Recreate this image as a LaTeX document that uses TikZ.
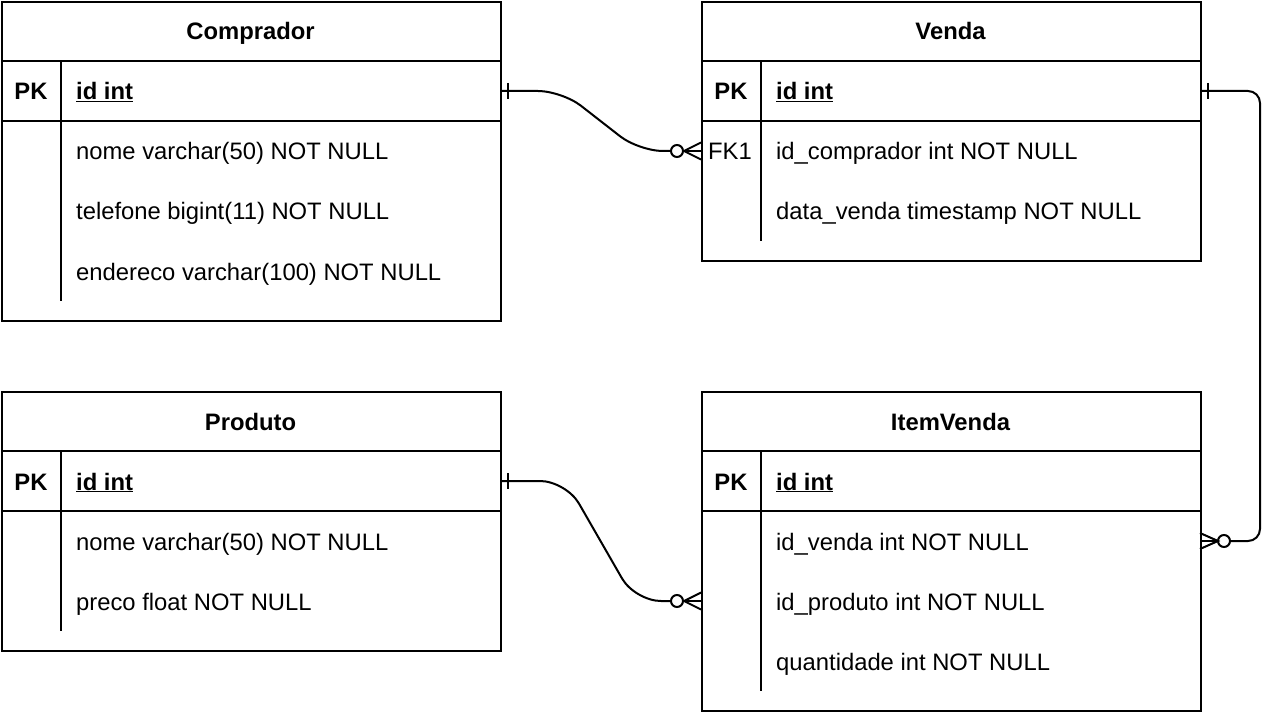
\documentclass[tikz,border=0pt]{standalone}
\usepackage{fontspec}
\setmainfont{Liberation Sans}
\usetikzlibrary{calc}
\begin{document}
\begin{tikzpicture}[x=1pt,y=-1pt,
  every node/.style={font=\fontsize{23.8}{28}\selectfont},
  tbox/.style={draw, line width=2pt, anchor=north west, inner sep=0pt, minimum width=499pt},
  sep/.style={line width=2pt},
  txt/.style={inner sep=0pt, text height=17pt, text depth=0pt},
  title/.style={txt, font=\fontsize{23.8}{28}\selectfont\bfseries},
  keyt/.style={txt, font=\fontsize{23.8}{28}\selectfont\bfseries},
  fk/.style={txt},
  fld/.style={txt, anchor=west},
  conn/.style={line width=2pt},
  endmark/.style={line width=2pt}
]
\useasboundingbox (0,0) rectangle (1280,714);

% ---------- Comprador ----------
\node[tbox, minimum height=319pt] (comp) at (1,1) {};
\node[title] (compT) at (250.5,31.5) {Comprador};
\draw[sep] (1,61) -- (500,61);
\draw[sep] (1,121) -- (500,121);
\draw[sep] (61,61) -- (61,301);
\node[keyt] (compPK) at (31,91.5) {PK};
\node[fld, font=\fontsize{23.8}{28}\selectfont\bfseries] (compId) at (76,91.5) {\underline{id int}};
\node[fld] (compF1) at (76,151.5) {nome varchar(50) NOT NULL};
\node[fld] (compF2) at (76,211.5) {telefone bigint(11) NOT NULL};
\node[fld] (compF3) at (76,271.5) {endereco varchar(100) NOT NULL};

% ---------- Venda ----------
\node[tbox, minimum height=259pt] (venda) at (701,1) {};
\node[title] (vendaT) at (950.5,31.5) {Venda};
\draw[sep] (701,61) -- (1200,61);
\draw[sep] (701,121) -- (1200,121);
\draw[sep] (761,61) -- (761,241);
\node[keyt] (vendaPK) at (731,91.5) {PK};
\node[fld, font=\fontsize{23.8}{28}\selectfont\bfseries] (vendaId) at (776,91.5) {\underline{id int}};
\node[fk] (vendaFK) at (730,151.5) {FK1};
\node[fld] (vendaF1) at (776,151.5) {id\_comprador int NOT NULL};
\node[fld] (vendaF2) at (776,211.5) {data\_venda timestamp NOT NULL};

% ---------- Produto ----------
\node[tbox, minimum height=259pt] (prod) at (1,391) {};
\node[title] (prodT) at (250.5,421.5) {Produto};
\draw[sep] (1,451) -- (500,451);
\draw[sep] (1,511) -- (500,511);
\draw[sep] (61,451) -- (61,631);
\node[keyt] (prodPK) at (31,481.5) {PK};
\node[fld, font=\fontsize{23.8}{28}\selectfont\bfseries] (prodId) at (76,481.5) {\underline{id int}};
\node[fld] (prodF1) at (76,541.5) {nome varchar(50) NOT NULL};
\node[fld] (prodF2) at (76,601.5) {preco float NOT NULL};

% ---------- ItemVenda ----------
\node[tbox, minimum height=319pt] (item) at (701,391) {};
\node[title] (itemT) at (950.5,421.5) {ItemVenda};
\draw[sep] (701,451) -- (1200,451);
\draw[sep] (701,511) -- (1200,511);
\draw[sep] (761,451) -- (761,691);
\node[keyt] (itemPK) at (731,481.5) {PK};
\node[fld, font=\fontsize{23.8}{28}\selectfont\bfseries] (itemId) at (776,481.5) {\underline{id int}};
\node[fld] (itemF1) at (776,541.5) {id\_venda int NOT NULL};
\node[fld] (itemF2) at (776,601.5) {id\_produto int NOT NULL};
\node[fld] (itemF3) at (776,661.5) {quantidade int NOT NULL};

% ---------- Connectors ----------
% Comprador.id -> Venda.id_comprador
\coordinate (a1) at (500,91);
\coordinate (b1) at (701,151);
\draw[conn, rounded corners=24pt] (a1) -- ($(a1)+(62,0)$) -- ($(b1)+(-62,0)$) -- ($(b1)+(-30,0)$);
\draw[endmark] ($(a1)+(8,-8)$) -- ($(a1)+(8,8)$);
\draw[endmark] ($(b1)+(-24,0)$) circle (6);
\draw[endmark] ($(b1)+(0,-8.5)$) -- ($(b1)+(-17,0)$) -- ($(b1)+(0,8.5)$);
\draw[endmark] ($(b1)+(-17,0)$) -- (b1);

% Venda.id -> ItemVenda.id_venda
\coordinate (a2) at (1200,91);
\coordinate (b2) at (1200,541);
\draw[conn, rounded corners=12pt] (a2) -- ($(a2)+(60,0)$) -- ($(b2)+(60,0)$) -- ($(b2)+(30,0)$);
\draw[endmark] ($(a2)+(8,-8)$) -- ($(a2)+(8,8)$);
\draw[endmark] ($(b2)+(24,0)$) circle (6);
\draw[endmark] ($(b2)+(0,-8)$) -- ($(b2)+(18,0)$) -- ($(b2)+(0,8)$);
\draw[endmark] ($(b2)+(18,0)$) -- (b2);

% Produto.id -> ItemVenda.id_produto
\coordinate (a3) at (500,481);
\coordinate (b3) at (701,601);
\draw[conn, rounded corners=26pt] (a3) -- ($(a3)+(66,0)$) -- ($(b3)+(-66,0)$) -- ($(b3)+(-30,0)$);
\draw[endmark] ($(a3)+(8,-8)$) -- ($(a3)+(8,8)$);
\draw[endmark] ($(b3)+(-24,0)$) circle (6);
\draw[endmark] ($(b3)+(0,-8.5)$) -- ($(b3)+(-17,0)$) -- ($(b3)+(0,8.5)$);
\draw[endmark] ($(b3)+(-17,0)$) -- (b3);
\end{tikzpicture}
\end{document}
